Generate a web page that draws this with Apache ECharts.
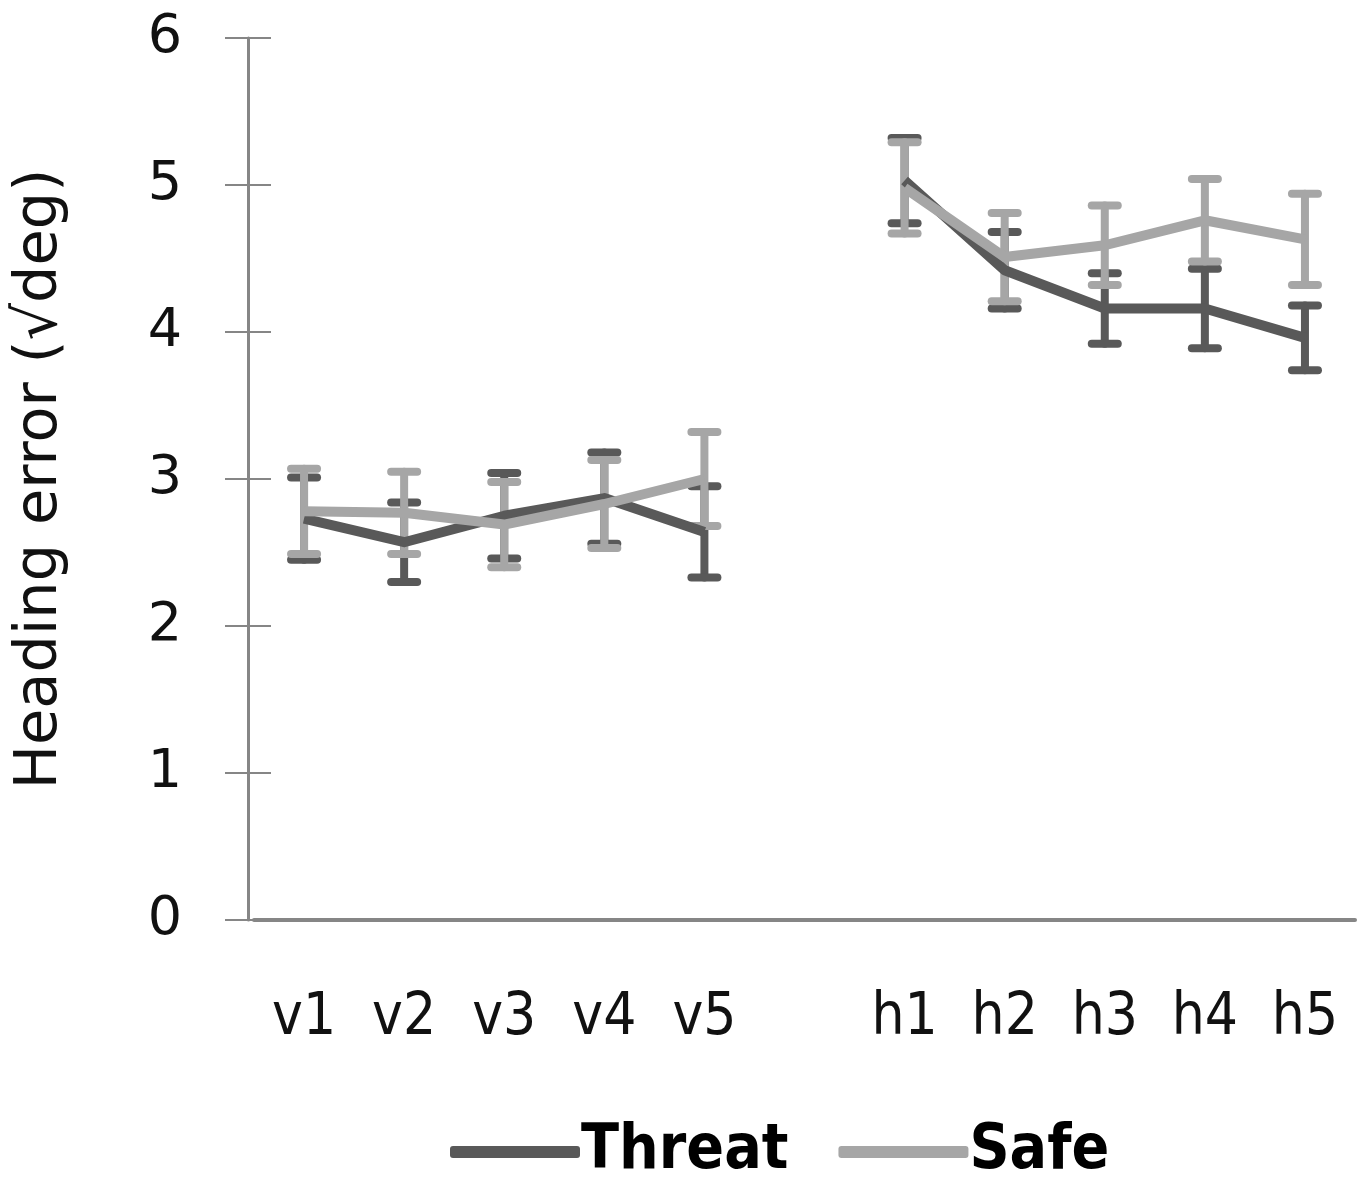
<!DOCTYPE html>
<html>
<head>
<meta charset="utf-8">
<script src="https://cdn.jsdelivr.net/npm/echarts@6/dist/echarts.min.js"></script>
<style>
  html, body { margin: 0; padding: 0; background: #fff; }
  #chart { width: 1363px; height: 1177px; }
</style>
</head>
<body>
<div id="chart"></div>
<script>
// categories (blank slot separates the v and h groups)
const categories = ['v1', 'v2', 'v3', 'v4', 'v5', '', 'h1', 'h2', 'h3', 'h4', 'h5']
const yTicks = [0, 1, 2, 3, 4, 5, 6]

// means and error (half-length of error bar)
const threatMean = [2.73, 2.57, 2.75, 2.87, 2.64, null, 5.03, 4.42, 4.16, 4.16, 3.96]
const threatErr  = [0.28, 0.27, 0.29, 0.31, 0.31, null, 0.29, 0.26, 0.24, 0.27, 0.22]
const safeMean   = [2.78, 2.77, 2.69, 2.83, 3.00, null, 4.98, 4.51, 4.59, 4.76, 4.63]
const safeErr    = [0.29, 0.28, 0.29, 0.30, 0.32, null, 0.31, 0.30, 0.27, 0.28, 0.31]

const threatColor = '#595959'
const safeColor = '#a6a6a6'
const axisColor = '#868686'

function errData(mean, err) {
	const out = []
	for (let i = 0; i < mean.length; i++) {
		if (mean[i] == null) continue
		out.push([i, mean[i] - err[i], mean[i] + err[i]])
	}
	return out
}

function errRender(color) {
	return function (params, api) {
		const lo = api.coord([api.value(0), api.value(1)])
		const hi = api.coord([api.value(0), api.value(2)])
		const hw = 13
		const st = { stroke: color, lineWidth: 8, lineCap: 'round' }
		return {
			type: 'group',
			children: [
				{ type: 'line', shape: { x1: lo[0], y1: lo[1], x2: hi[0], y2: hi[1] }, style: st },
				{ type: 'line', shape: { x1: lo[0] - hw, y1: lo[1], x2: lo[0] + hw, y2: lo[1] }, style: st },
				{ type: 'line', shape: { x1: hi[0] - hw, y1: hi[1], x2: hi[0] + hw, y2: hi[1] }, style: st }
			]
		}
	}
}

const chart = echarts.init(document.getElementById('chart'))
const option = {
	animation: false,
	backgroundColor: '#fff',
	grid: { left: 254, top: 38, width: 1101, height: 882, outerBoundsMode: 'none', containLabel: false },
	legend: {
		left: 445,
		top: 1116,
		itemWidth: 130,
		itemHeight: 12,
		itemGap: 50,
		icon: 'roundRect',
		textStyle: {
			fontFamily: '"DejaVu Sans Condensed", "DejaVu Sans", sans-serif',
			fontWeight: 'bold',
			fontSize: 62,
			color: '#000',
			padding: [0, 0, 0, -4]
		},
		data: [
			{ name: 'Threat', itemStyle: { color: threatColor } },
			{ name: 'Safe', itemStyle: { color: safeColor } }
		]
	},
	xAxis: {
		type: 'category',
		data: categories,
		boundaryGap: true,
		axisLine: { lineStyle: { color: axisColor, width: 4 } },
		axisTick: { show: false },
		axisLabel: {
			margin: 70,
			fontFamily: '"DejaVu Sans Condensed", "DejaVu Sans", sans-serif',
			fontSize: 58,
			color: '#111',
			interval: 0
		},
		splitLine: { show: false }
	},
	yAxis: [
		{
			type: 'value',
			min: yTicks[0],
			max: yTicks[yTicks.length - 1],
			interval: 1,
			offset: 6,
			name: 'Heading error (√deg)',
			nameLocation: 'middle',
			nameGap: 178,
			nameTextStyle: {
				fontFamily: '"DejaVu Sans", sans-serif',
				fontSize: 59,
				color: '#111'
			},
			axisLine: { show: true, lineStyle: { color: axisColor, width: 3 } },
			axisTick: { show: true, length: 23, lineStyle: { color: axisColor, width: 2 } },
			axisLabel: {
				margin: 66,
				fontFamily: '"DejaVu Sans", sans-serif',
				fontSize: 54,
				color: '#111'
			},
			splitLine: { show: false }
		},
		{
			// inner half of the crossing ticks
			type: 'value',
			position: 'left',
			min: yTicks[0],
			max: yTicks[yTicks.length - 1],
			interval: 1,
			offset: 6,
			axisLine: { show: false },
			axisTick: { show: true, inside: true, length: 23, lineStyle: { color: axisColor, width: 2 } },
			axisLabel: { show: false },
			splitLine: { show: false }
		}
	],
	series: [
		{
			name: 'Threat bars',
			type: 'custom',
			renderItem: errRender(threatColor),
			encode: { x: 0, y: [1, 2] },
			data: errData(threatMean, threatErr)
		},
		{
			name: 'Threat',
			type: 'line',
			data: threatMean,
			symbol: 'none',
			color: threatColor,
			lineStyle: { width: 10, color: threatColor, join: 'round' }
		},
		{
			name: 'Safe bars',
			type: 'custom',
			renderItem: errRender(safeColor),
			encode: { x: 0, y: [1, 2] },
			data: errData(safeMean, safeErr)
		},
		{
			name: 'Safe',
			type: 'line',
			data: safeMean,
			symbol: 'none',
			color: safeColor,
			lineStyle: { width: 10, color: safeColor, join: 'round' }
		}
	]
}
chart.setOption(option)
</script>
</body>
</html>
